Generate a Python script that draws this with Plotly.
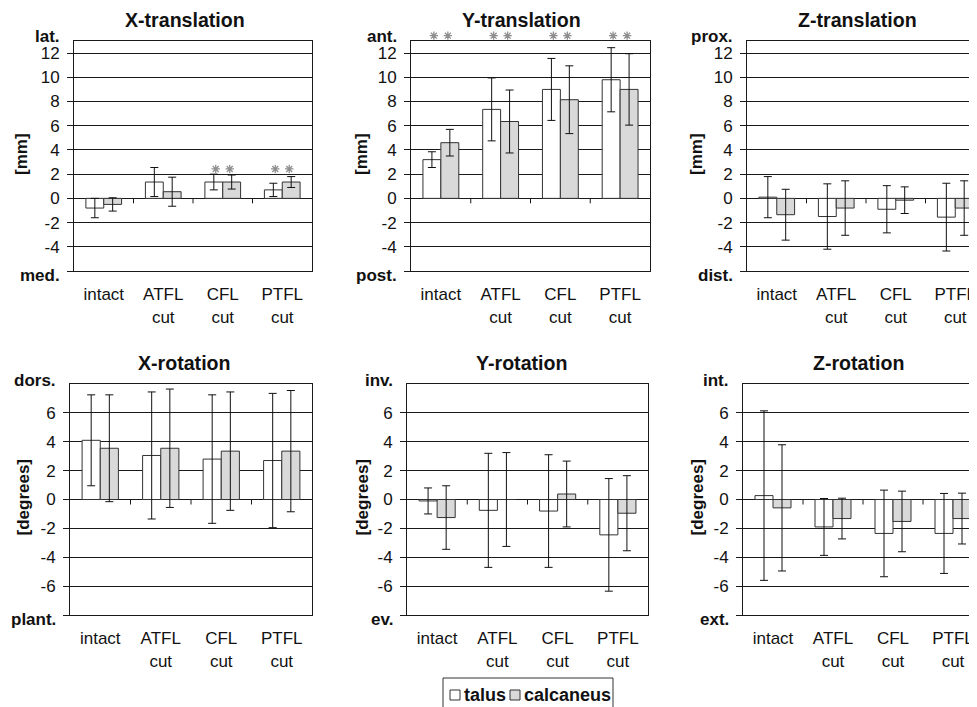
import plotly.graph_objects as go

# ---------------- data ----------------
categories = ["intact", "ATFL<br>cut", "CFL<br>cut", "PTFL<br>cut"]
series_names = ["talus", "calcaneus"]

# X-translation [mm]
xtrans_talus = [-0.8, 1.35, 1.35, 0.7]
xtrans_talus_sd = [0.8, 1.2, 0.65, 0.55]
xtrans_calc = [-0.5, 0.55, 1.35, 1.35]
xtrans_calc_sd = [0.55, 1.2, 0.58, 0.45]
xtrans_sig = [False, False, True, True]

# Y-translation [mm]
ytrans_talus = [3.2, 7.35, 9.0, 9.8]
ytrans_talus_sd = [0.65, 2.6, 2.56, 2.65]
ytrans_calc = [4.6, 6.35, 8.15, 9.0]
ytrans_calc_sd = [1.1, 2.6, 2.8, 2.95]
ytrans_sig = [True, True, True, True]

# Z-translation [mm]
ztrans_talus = [0.1, -1.5, -0.9, -1.55]
ztrans_talus_sd = [1.7, 2.7, 1.95, 2.8]
ztrans_calc = [-1.35, -0.8, -0.15, -0.8]
ztrans_calc_sd = [2.1, 2.25, 1.1, 2.25]
ztrans_sig = [False, False, False, False]

# X-rotation [degrees]
xrot_talus = [4.1, 3.05, 2.8, 2.7]
xrot_talus_sd = [3.15, 4.4, 4.45, 4.65]
xrot_calc = [3.55, 3.55, 3.35, 3.35]
xrot_calc_sd = [3.7, 4.1, 4.1, 4.2]
xrot_sig = [False, False, False, False]

# Y-rotation [degrees]
yrot_talus = [-0.1, -0.75, -0.8, -2.45]
yrot_talus_sd = [0.9, 3.95, 3.9, 3.9]
yrot_calc = [-1.25, 0.0, 0.38, -0.95]
yrot_calc_sd = [2.2, 3.25, 2.28, 2.6]
yrot_sig = [False, False, False, False]

# Z-rotation [degrees]
zrot_talus = [0.27, -1.9, -2.35, -2.35]
zrot_talus_sd = [5.87, 1.97, 3.0, 2.77]
zrot_calc = [-0.58, -1.32, -1.52, -1.32]
zrot_calc_sd = [4.37, 1.41, 2.1, 1.76]
zrot_sig = [False, False, False, False]

# axis ticks
trans_numbers = [-4, -2, 0, 2, 4, 6, 8, 10, 12]
trans_range = [-6, 13]
rot_numbers = [-6, -4, -2, 0, 2, 4, 6]
rot_range = [-8, 8]

xtrans_ends = ["med.", "lat."]
ytrans_ends = ["post.", "ant."]
ztrans_ends = ["dist.", "prox."]
xrot_ends = ["plant.", "dors."]
yrot_ends = ["ev.", "inv."]
zrot_ends = ["ext.", "int."]

# ---------------- style / layout ----------------
OFF = 8                      # default page margin of the html body
W, H = 977 - OFF, 707 - OFF  # figure size so that it fits the window
FONT = "Liberation Sans, Arial, Helvetica, sans-serif"
INK = "#111111"
LINE = "#1a1a1a"
TALUS_FILL = "#ffffff"
CALC_FILL = "#d9d9d9"
STAR = "#8f8f8f"
STAR_EXT = 24                # extra pixels above a panel where asterisks may sit


def px(x):
    return (x - OFF) / W


def py(y):
    return 1 - (y - OFF) / H


panels = [
    dict(title="X-translation", unit="[mm]", t=xtrans_talus, tsd=xtrans_talus_sd, c=xtrans_calc, csd=xtrans_calc_sd,
         sig=xtrans_sig, star_y=2.43, nums=trans_numbers, rng=trans_range, ends=xtrans_ends,
         left=74, right=312, top=41, bottom=271, unit_x=22, title_dx=-8),
    dict(title="Y-translation", unit="[mm]", t=ytrans_talus, tsd=ytrans_talus_sd, c=ytrans_calc, csd=ytrans_calc_sd,
         sig=ytrans_sig, star_y=13.44, nums=trans_numbers, rng=trans_range, ends=ytrans_ends,
         left=411, right=650, top=41, bottom=271, unit_x=362, title_dx=-9),
    dict(title="Z-translation", unit="[mm]", t=ztrans_talus, tsd=ztrans_talus_sd, c=ztrans_calc, csd=ztrans_calc_sd,
         sig=ztrans_sig, star_y=2.5, nums=trans_numbers, rng=trans_range, ends=ztrans_ends,
         left=747, right=985, top=41, bottom=271, unit_x=697, title_dx=-9),
    dict(title="X-rotation", unit="[degrees]", t=xrot_talus, tsd=xrot_talus_sd, c=xrot_calc, csd=xrot_calc_sd,
         sig=xrot_sig, star_y=8.5, nums=rot_numbers, rng=rot_range, ends=xrot_ends,
         left=70, right=312, top=384, bottom=615, unit_x=23, title_dx=-7),
    dict(title="Y-rotation", unit="[degrees]", t=yrot_talus, tsd=yrot_talus_sd, c=yrot_calc, csd=yrot_calc_sd,
         sig=yrot_sig, star_y=8.5, nums=rot_numbers, rng=rot_range, ends=yrot_ends,
         left=407, right=648, top=384, bottom=615, unit_x=362, title_dx=-6),
    dict(title="Z-rotation", unit="[degrees]", t=zrot_talus, tsd=zrot_talus_sd, c=zrot_calc, csd=zrot_calc_sd,
         sig=zrot_sig, star_y=8.5, nums=rot_numbers, rng=rot_range, ends=zrot_ends,
         left=743, right=983, top=384, bottom=615, unit_x=697, title_dx=-5),
]

fig = go.Figure()
layout = dict(
    width=W, height=H, autosize=False,
    margin=dict(l=0, r=0, t=0, b=0, autoexpand=False),
    paper_bgcolor="white", plot_bgcolor="rgba(0,0,0,0)",
    barmode="group", bargap=0.4, bargroupgap=0.0,
    font=dict(family=FONT, size=17, color=INK),
    showlegend=False,
)
annotations = []
shapes = []
n_panels = len(panels)

for i, p in enumerate(panels, start=1):
    xa = "x" if i == 1 else f"x{i}"
    ya = "y" if i == 1 else f"y{i}"
    vis_right = min(p["right"], 977)
    full_w = p["right"] - p["left"]
    cat_px = full_w / len(categories)
    x_end = -0.5 + (vis_right - p["left"]) / cat_px
    clipped = p["right"] > 977
    lo, hi = p["rng"]

    for name, vals, sd, fill in [(series_names[0], p["t"], p["tsd"], TALUS_FILL),
                                 (series_names[1], p["c"], p["csd"], CALC_FILL)]:
        fig.add_trace(go.Bar(
            x=list(range(len(categories))), y=vals, name=name,
            xaxis=xa, yaxis=ya, legendgroup=name, showlegend=False,
            marker=dict(color=fill, line=dict(color="#333333", width=1)),
            error_y=dict(type="data", array=sd, visible=True, color=INK, thickness=1, width=4),
        ))

    # significance asterisks (one above each bone's bar), drawn on a hidden
    # companion y axis that has the same scale but reaches a little higher
    sx, sy = [], []
    for k, s in enumerate(p["sig"]):
        if s:
            for dx in (-7, 7):
                sx.append(k + dx / cat_px)
                sy.append(p["star_y"])
    if sx:
        aux = n_panels + i
        aux_key = f"yaxis{aux}"
        unit_px = (p["bottom"] - p["top"]) / (hi - lo)
        layout[aux_key] = dict(
            domain=[py(p["bottom"]), py(p["top"] - STAR_EXT)], anchor=xa,
            range=[lo, hi + STAR_EXT / unit_px], visible=False, showgrid=False,
            zeroline=False, fixedrange=True,
        )
        fig.add_trace(go.Scatter(
            x=sx, y=sy, mode="markers", xaxis=xa, yaxis=f"y{aux}", showlegend=False,
            cliponaxis=False, hoverinfo="skip", name="significant",
            marker=dict(symbol="asterisk-open", size=7, color=STAR,
                        line=dict(color=STAR, width=1.3)),
        ))

    tickvals = [lo] + p["nums"]
    ticktext = [""] + [str(v) for v in p["nums"]]

    xkey = "xaxis" if i == 1 else f"xaxis{i}"
    ykey = "yaxis" if i == 1 else f"yaxis{i}"
    layout[xkey] = dict(
        domain=[px(p["left"]), px(vis_right)], anchor=ya,
        range=[-0.5, x_end], tickmode="array",
        tickvals=list(range(len(categories))), ticktext=categories,
        showgrid=False, zeroline=False, ticks="",
        showline=True, linecolor=LINE, linewidth=1, mirror=True,
        tickfont=dict(family=FONT, size=17, color=INK), ticklabelstandoff=8,
        fixedrange=True,
    )
    layout[ykey] = dict(
        domain=[py(p["bottom"]), py(p["top"])], anchor=xa,
        range=p["rng"], tickmode="array", tickvals=tickvals, ticktext=ticktext,
        showgrid=True, gridcolor=LINE, gridwidth=1, zeroline=False,
        ticks="outside", ticklen=6, tickcolor=LINE, tickwidth=1,
        showline=True, linecolor=LINE, linewidth=1, mirror=(not clipped),
        tickfont=dict(family=FONT, size=17, color=INK), ticklabelstandoff=4,
        fixedrange=True,
    )

    # direction labels at both ends of the value axis
    for val, text, shift in [(hi, p["ends"][1], 4), (lo, p["ends"][0], -4)]:
        annotations.append(dict(text=f"<b>{text}</b>", xref=f"{xa} domain", yref=f"{ya} domain",
                                x=0, y=(val - lo) / (hi - lo), xshift=-12, yshift=shift,
                                xanchor="right", yanchor="middle", showarrow=False,
                                font=dict(family=FONT, size=17, color=INK)))

    # small tick marks on the zero line between categories
    for b in range(len(categories) - 1):
        shapes.append(dict(type="line", xref=xa, yref=ya, x0=b + 0.5, x1=b + 0.5,
                           ysizemode="pixel", yanchor=0, y0=0, y1=-5,
                           line=dict(color=LINE, width=1)))

    # panel title
    annotations.append(dict(text=f"<b>{p['title']}</b>", xref="paper", yref="paper",
                            x=px((p["left"] + p["right"]) / 2 + p["title_dx"]),
                            y=py(p["top"] - 21), xanchor="center", yanchor="middle",
                            showarrow=False, font=dict(family=FONT, size=19.6, color=INK)))
    # unit label
    annotations.append(dict(text=f"<b>{p['unit']}</b>", xref="paper", yref="paper",
                            x=px(p["unit_x"]), y=py((p["top"] + p["bottom"]) / 2 - 2),
                            xanchor="center", yanchor="middle", textangle=-90,
                            showarrow=False, font=dict(family=FONT, size=17, color=INK)))

# legend box (drawn by hand, matching the compact original key)
shapes.append(dict(type="rect", xref="paper", yref="paper", x0=px(443), x1=px(613),
                   y0=py(678), y1=py(730), line=dict(color="#333333", width=1),
                   fillcolor="white", layer="above"))
for name, fill, sq_x, txt_x in [(series_names[0], TALUS_FILL, 450, 462),
                                (series_names[1], CALC_FILL, 510, 522)]:
    shapes.append(dict(type="rect", xref="paper", yref="paper", x0=px(sq_x), x1=px(sq_x + 10),
                       y0=py(700), y1=py(690), line=dict(color="#333333", width=1),
                       fillcolor=fill, layer="above"))
    annotations.append(dict(text=f"<b>{name}</b>", xref="paper", yref="paper",
                            x=px(txt_x), y=py(695), xanchor="left", yanchor="middle",
                            showarrow=False, font=dict(family=FONT, size=18, color=INK)))

layout["annotations"] = annotations
layout["shapes"] = shapes
fig.update_layout(**layout)
fig.write_html("out.html")
